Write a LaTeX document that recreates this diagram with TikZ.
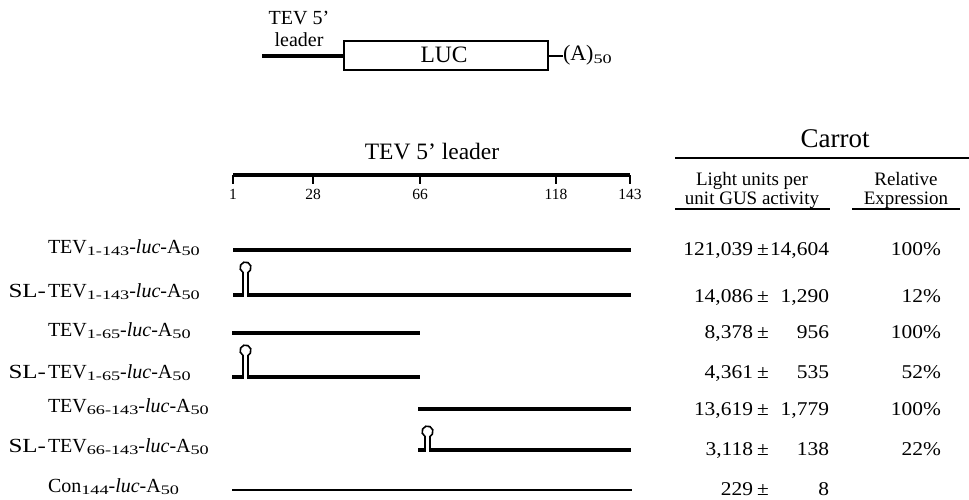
\documentclass[tikz,border=0pt]{standalone}
\usepackage{fontspec}
\setmainfont{Liberation Serif}
\newfontfamily\numfont[FakeStretch=1.1]{Liberation Serif}
\usepackage{graphicx}
\newcommand{\fsz}[1]{\fontsize{#1}{#1}\selectfont}
\newcommand{\sbx}[1]{\raisebox{-2.2pt}{\scalebox{1.4}[1]{\fsz{13}#1}}}
\newcommand{\slp}{\llap{\scalebox{1.25}[1]{SL-}\kern2pt}}
\newcommand{\stemloop}[3]{%
  \draw[stemln] (#1,#2) -- ({#1},{#3+10.4}) arc[start angle=117,end angle=423,radius=5.5] -- ({#1+5},#2);}
\begin{document}
\begin{tikzpicture}[x=1pt,y=-1pt,
  every node/.style={inner sep=0pt,outer sep=0pt},
  thickln/.style={line width=4pt},
  thinln/.style={line width=1.8pt},
  stemln/.style={line width=1.6pt},
  tickln/.style={line width=2pt},
  rule/.style={line width=2pt},
  lbl/.style={anchor=base west,font=\fsz{20}},
  hdr/.style={anchor=base,font=\fsz{19},text height=12.5pt,text depth=0pt},
  num/.style={anchor=base east,font=\numfont\fsz{19.5}},
  pm/.style={anchor=base,font=\numfont\fsz{19.5}},
  tick/.style={anchor=base,font=\fsz{15.5}}]
\useasboundingbox (0,0) rectangle (969,500);

% --- construct sketch at top
\node[anchor=base,font=\fsz{20}] (tevA) at (299,25) {TEV 5'};
\node[anchor=base,font=\fsz{20}] (tevB) at (299,47) {leader};
\coordinate (ldrS) at (262,56);
\node[draw,line width=2pt,minimum width=204pt,minimum height=29pt,anchor=west] (luc) at (344,56) {};
\node[anchor=base,font=\fsz{23.5}] (luct) at (444,63) {LUC};
\node[anchor=base west,font=\fsz{22}] (polyA) at (563,61) {(A)\sbx{50}};
\draw[thickln] (ldrS) -- (luc.west);
\draw[thinln] (luc.east) -- (polyA.west |- luc.east);

% --- scale
\node[anchor=base,font=\fsz{23.5}] (title) at (432,160) {TEV 5' leader};
\coordinate (s1) at (233,175);
\coordinate (s143) at (630,175);
\draw[thickln] (s1) -- (s143);
\foreach \x/\t in {233/1,313/28,420/66,556/118,630/143}{
  \draw[tickln] (\x,175) -- (\x,184);
  \node[tick] (tk\t) at (\x,199) {\t};
}

% --- row labels
\node[lbl] (r1) at (48,253) {TEV\sbx{1-143}-\textit{luc}-A\sbx{50}};
\node[lbl] (r2) at (48,297) {\slp TEV\sbx{1-143}-\textit{luc}-A\sbx{50}};
\node[lbl] (r3) at (48,336) {TEV\sbx{1-65}-\textit{luc}-A\sbx{50}};
\node[lbl] (r4) at (48,378) {\slp TEV\sbx{1-65}-\textit{luc}-A\sbx{50}};
\node[lbl] (r5) at (48,412) {TEV\sbx{66-143}-\textit{luc}-A\sbx{50}};
\node[lbl] (r6) at (48,452) {\slp TEV\sbx{66-143}-\textit{luc}-A\sbx{50}};
\node[lbl] (r7) at (48,492) {Con\sbx{144}-\textit{luc}-A\sbx{50}};

% --- constructs
\draw[thickln] (233,250) -- (631,250);
\draw[thickln] (233,295) -- (244,295);
\draw[thickln] (247,295) -- (631,295);
\stemloop{243}{295}{262}
\draw[thickln] (232,333) -- (420,333);
\draw[thickln] (232,377) -- (244,377);
\draw[thickln] (247,377) -- (420,377);
\stemloop{243}{377}{345}
\draw[thickln] (418,409) -- (631,409);
\draw[thickln] (418,450) -- (426,450);
\draw[thickln] (429,450) -- (631,450);
\stemloop{425}{450}{426}
\draw[thinln] (232,490) -- (632,490);

% --- table headings
\node[anchor=base,font=\fsz{27}] (carrot) at (835,148) {Carrot};
\draw[rule] (675,158) -- (969,158);
\node[hdr] (lu1) at (752,185) {Light units per};
\node[hdr] (lu2) at (752,204) {unit GUS activity};
\draw[rule] (675,209) -- (830,209);
\node[hdr] (re1) at (906,185) {Relative};
\node[hdr] (re2) at (906,204) {Expression};
\draw[rule] (852,209) -- (960,209);

% --- data
\node[num] (a1) at (753,255) {121,039};
\node[pm] (p1) at (763,255) {±};
\node[num] (b1) at (829,255) {14,604};
\node[num] (c1) at (941,255) {100\%};
\foreach \n/\y/\a/\b/\c in {2/302/{14,086}/{1,290}/{12\%},3/338/{8,378}/{956}/{100\%},4/378/{4,361}/{535}/{52\%},5/415/{13,619}/{1,779}/{100\%},6/455/{3,118}/{138}/{22\%},7/495/{229}/{8}/{}}{
  \node[num] (a\n) at (753,\y) {\a};
  \node[pm] (p\n) at (763,\y) {±};
  \node[num] (b\n) at (829,\y) {\b};
  \node[num] (c\n) at (941,\y) {\c};
}
\end{tikzpicture}
\end{document}
